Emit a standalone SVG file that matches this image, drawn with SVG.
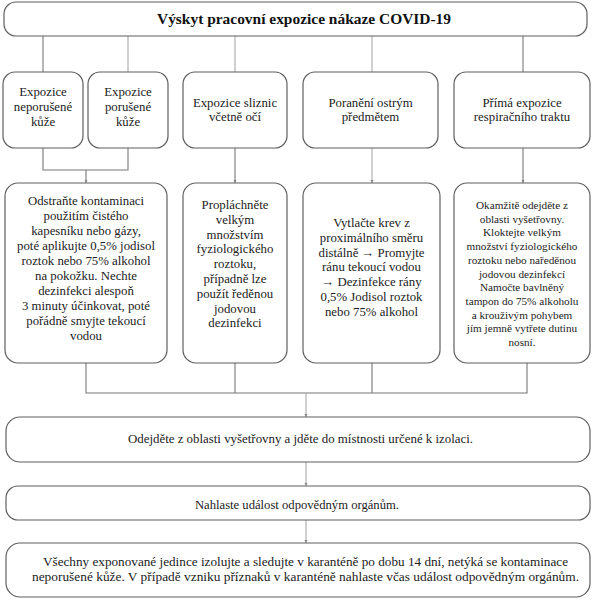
<svg xmlns="http://www.w3.org/2000/svg" width="601" height="600" viewBox="0 0 601 600">
<style>
.box{fill:#fff;stroke:#5f5f5f;stroke-width:1.2}
.t{font-family:"Liberation Serif","Times New Roman",serif;font-size:12.8px;fill:#222;text-anchor:middle}
.s{font-size:11.2px}
.title{font-family:"Liberation Serif","Times New Roman",serif;font-size:15px;font-weight:bold;fill:#111;text-anchor:middle}
.c{fill:none;stroke:#777;stroke-width:1.1}
.cl{fill:none;stroke:#aaa;stroke-width:1.1}
</style>
<defs>
<marker id="ah" viewBox="0 0 4 4" refX="4" refY="2" markerWidth="3" markerHeight="3" orient="auto"><path d="M0,0L4,2L0,4z" fill="#888"/></marker>
</defs>
<rect width="601" height="600" fill="#fff"/>
<g id="connectors">
<path class="c" d="M43,36V72"/>
<path class="cl" d="M128,36V72"/>
<path class="cl" d="M235,36V72"/>
<path class="cl" d="M372,36V72"/>
<path class="c" d="M523,36V72"/>
<path class="c" d="M43,148V170H128V148"/>
<path class="c" d="M86,170V183" marker-end="url(#ah)"/>
<path class="c" d="M235,148V183" marker-end="url(#ah)"/>
<path class="cl" d="M372,148V183" marker-end="url(#ah)"/>
<path class="c" d="M523,148V183" marker-end="url(#ah)"/>
<path class="c" d="M86,363V393H527V363"/>
<path class="c" d="M235,363V393"/>
<path class="c" d="M372,363V393"/>
<path class="cl" d="M306,393V417" marker-end="url(#ah)"/>
<path class="cl" d="M306,462V486" marker-end="url(#ah)"/>
<path class="cl" d="M306,520V543" marker-end="url(#ah)"/>
</g>
<g id="title"><rect class="box" x="4" y="2" width="583" height="34" rx="12"/><text class="title" x="304" y="24" textLength="294" lengthAdjust="spacingAndGlyphs">Výskyt pracovní expozice nákaze COVID-19</text></g>
<g id="n-neporusene"><rect class="box" x="3" y="72" width="80" height="76" rx="12"/><text class="t" x="43" y="96"><tspan x="43">Expozice</tspan><tspan x="43" dy="15">neporušené</tspan><tspan x="43" dy="15">kůže</tspan></text></g>
<g id="n-porusene"><rect class="box" x="88" y="72" width="80" height="76" rx="12"/><text class="t" x="128" y="96"><tspan x="128">Expozice</tspan><tspan x="128" dy="15">porušené</tspan><tspan x="128" dy="15">kůže</tspan></text></g>
<g id="n-sliznic"><rect class="box" x="183" y="72" width="104" height="76" rx="12"/><text class="t" x="235" y="107"><tspan x="235">Expozice sliznic</tspan><tspan x="235" dy="14">včetně očí</tspan></text></g>
<g id="n-poraneni"><rect class="box" x="303" y="72" width="135" height="76" rx="12"/><text class="t" x="370.5" y="107"><tspan x="370.5">Poranění ostrým</tspan><tspan x="370.5" dy="14">předmětem</tspan></text></g>
<g id="n-respiracni"><rect class="box" x="454" y="72" width="136" height="76" rx="12"/><text class="t" x="522" y="107"><tspan x="522">Přímá expozice</tspan><tspan x="522" dy="14">respiračního traktu</tspan></text></g>
<g id="n-kuze-postup"><rect class="box" x="5" y="183" width="162" height="180" rx="13"/><text class="t" x="86" y="205"><tspan x="86">Odstraňte kontaminaci</tspan><tspan x="86" dy="15">použitím čistého</tspan><tspan x="86" dy="15">kapesníku nebo gázy,</tspan><tspan x="86" dy="15">poté aplikujte 0,5% jodisol</tspan><tspan x="86" dy="15">roztok nebo 75% alkohol</tspan><tspan x="86" dy="15">na pokožku. Nechte</tspan><tspan x="86" dy="15">dezinfekci alespoň</tspan><tspan x="86" dy="15">3 minuty účinkovat, poté</tspan><tspan x="86" dy="15">pořádně smyjte tekoucí</tspan><tspan x="86" dy="15">vodou</tspan></text></g>
<g id="n-sliznic-postup"><rect class="box" x="183" y="183" width="104" height="180" rx="13"/><text class="t" x="235" y="209"><tspan x="235">Propláchněte</tspan><tspan x="235" dy="14.8">velkým</tspan><tspan x="235" dy="14.8">množstvím</tspan><tspan x="235" dy="14.8">fyziologického</tspan><tspan x="235" dy="14.8">roztoku,</tspan><tspan x="235" dy="14.8">případně lze</tspan><tspan x="235" dy="14.8">použít ředěnou</tspan><tspan x="235" dy="14.8">jodovou</tspan><tspan x="235" dy="14.8">dezinfekci</tspan></text></g>
<g id="n-poraneni-postup"><rect class="box" x="303" y="183" width="137" height="180" rx="13"/><text class="t" x="371.5" y="227"><tspan x="371.5">Vytlačte krev z</tspan><tspan x="371.5" dy="14.8">proximálního směru</tspan><tspan x="371.5" dy="14.8">distálně → Promyjte</tspan><tspan x="371.5" dy="14.8">ránu tekoucí vodou</tspan><tspan x="371.5" dy="14.8">→ Dezinfekce rány</tspan><tspan x="371.5" dy="14.8">0,5% Jodisol roztok</tspan><tspan x="371.5" dy="14.8">nebo 75% alkohol</tspan></text></g>
<g id="n-respiracni-postup"><rect class="box" x="454" y="183" width="136" height="180" rx="13"/><text class="t s" x="522" y="209"><tspan x="522">Okamžitě odejděte z</tspan><tspan x="522" dy="13.7">oblasti vyšetřovny.</tspan><tspan x="522" dy="13.7">Kloktejte velkým</tspan><tspan x="522" dy="13.7">množství fyziologického</tspan><tspan x="522" dy="13.7">roztoku nebo naředěnou</tspan><tspan x="522" dy="13.7">jodovou dezinfekcí</tspan><tspan x="522" dy="13.7">Namočte bavlněný</tspan><tspan x="522" dy="13.7">tampon do 75% alkoholu</tspan><tspan x="522" dy="13.7">a krouživým pohybem</tspan><tspan x="522" dy="13.7">jím jemně vytřete dutinu</tspan><tspan x="522" dy="13.7">nosní.</tspan></text></g>
<g id="n-odejdete"><rect class="box" x="6" y="417" width="584" height="45" rx="14"/><text class="t" x="300.5" y="443" textLength="345" lengthAdjust="spacingAndGlyphs">Odejděte z oblasti vyšetřovny a jděte do místnosti určené k izolaci.</text></g>
<g id="n-nahlaste"><rect class="box" x="6" y="486" width="584" height="34" rx="12"/><text class="t" x="297" y="509" textLength="204" lengthAdjust="spacingAndGlyphs">Nahlaste událost odpovědným orgánům.</text></g>
<g id="n-izolace"><rect class="box" x="6" y="543" width="584" height="54" rx="14"/><text class="t" x="305.5" y="566"><tspan x="305.5" textLength="525" lengthAdjust="spacingAndGlyphs">Všechny exponované jedince izolujte a sledujte v karanténě po dobu 14 dní, netýká se kontaminace</tspan><tspan x="305.5" dy="15" textLength="547" lengthAdjust="spacingAndGlyphs">neporušené kůže. V případě vzniku příznaků v karanténě nahlaste včas událost odpovědným orgánům.</tspan></text></g>
</svg>
